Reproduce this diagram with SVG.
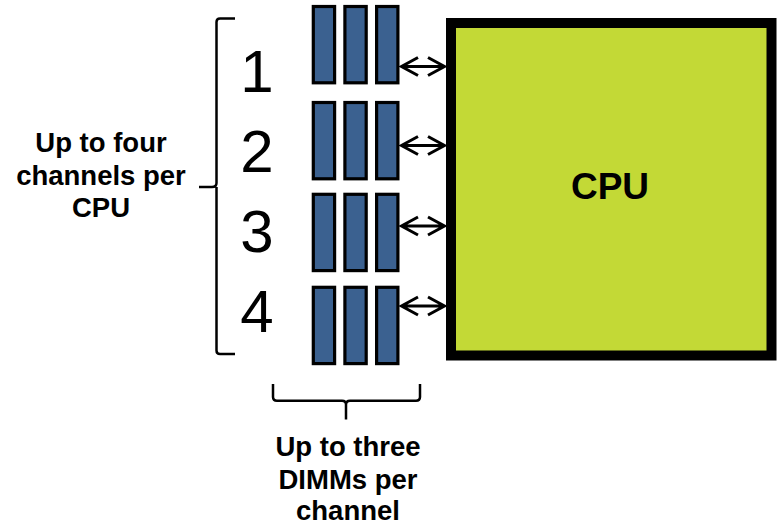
<svg xmlns="http://www.w3.org/2000/svg" width="778" height="526" viewBox="0 0 778 526">
<defs>
<style>
.dimm{fill:#3b6190;stroke:#000;stroke-width:3.2}
.cpu{fill:#c3d936;stroke:#000;stroke-width:10}
.lbl{font-family:"Liberation Sans",Arial,sans-serif;font-weight:bold;font-size:27.5px;fill:#000;text-anchor:middle}
.num{font-family:"Liberation Sans",Arial,sans-serif;font-size:60px;fill:#000;text-anchor:middle}
.ln{fill:none;stroke:#000;stroke-width:3}
.br{fill:none;stroke:#000;stroke-width:2.5}
</style>
<g id="dimmset">
<rect class="dimm" x="313.3" y="0" width="21.3" height="76.3"/>
<rect class="dimm" x="344.9" y="0" width="21.3" height="76.3"/>
<rect class="dimm" x="376.6" y="0" width="21.3" height="76.3"/>
</g>
</defs>
<rect width="778" height="526" fill="#fff"/>
<g id="cpu">
<rect class="cpu" x="451" y="23" width="320.5" height="332.5"/>
<text class="lbl" x="610" y="199" style="font-size:37px">CPU</text>
</g>
<g id="channel1">
<use href="#dimmset" y="6.5"/>
<text class="num" x="257" y="92">1</text>
</g>
<g id="channel2">
<use href="#dimmset" y="102.5"/>
<text class="num" x="257" y="172">2</text>
</g>
<g id="channel3">
<use href="#dimmset" y="194.3"/>
<text class="num" x="257" y="252">3</text>
</g>
<g id="channel4">
<use href="#dimmset" y="287.3"/>
<text class="num" x="257" y="332">4</text>
</g>
<g id="connectors">
<path class="ln" d="M401 66.5H445M418 57.5L401.5 66.5L418 75.5M428 57.5L444.5 66.5L428 75.5"/>
<path class="ln" d="M401 145.5H445M418 136.5L401.5 145.5L418 154.5M428 136.5L444.5 145.5L428 154.5"/>
<path class="ln" d="M401 226H445M418 217L401.5 226L418 235M428 217L444.5 226L428 235"/>
<path class="ln" d="M401 306H445M418 297L401.5 306L418 315M428 297L444.5 306L428 315"/>
</g>
<g id="brace-channels">
<path class="br" d="M235 18.5H220Q216.5 18.5 216.5 22V183Q216.5 187 212 187H199M216.5 187V350.5Q216.5 354 220 354H235"/>
<text class="lbl" x="101" y="152">Up to four</text>
<text class="lbl" x="101" y="184.5">channels per</text>
<text class="lbl" x="101" y="217">CPU</text>
</g>
<g id="brace-dimms">
<path class="br" d="M273 384V397Q273 400.7 277 400.7H342Q346 400.7 346 404.5V419.5M346 404.5Q346 400.7 350 400.7H416Q420 400.7 420 397V384"/>
<text class="lbl" x="348" y="456">Up to three</text>
<text class="lbl" x="348" y="488.5">DIMMs per</text>
<text class="lbl" x="348" y="520">channel</text>
</g>
</svg>
